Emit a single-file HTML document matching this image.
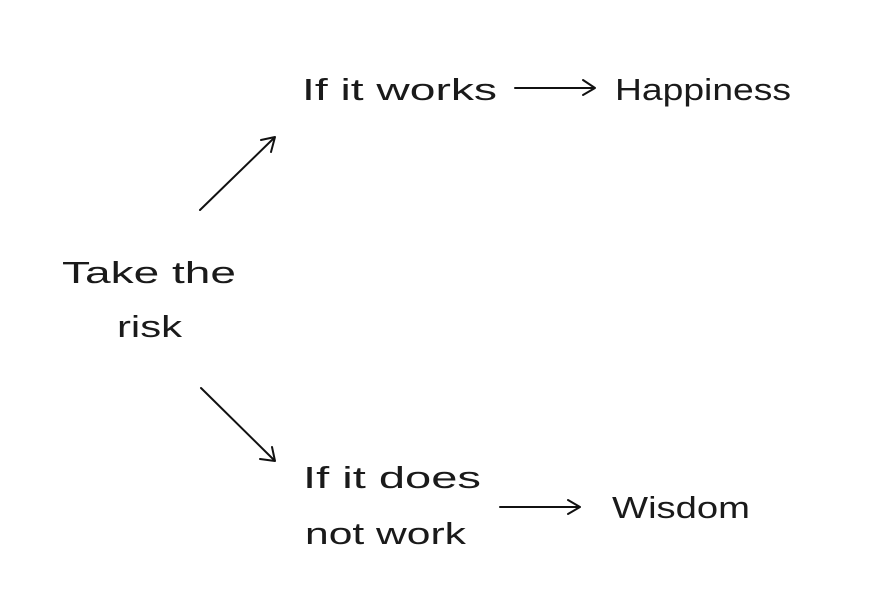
<!DOCTYPE html>
<html><head><style>
html,body{margin:0;padding:0;background:#fff;width:876px;height:601px;overflow:hidden}
svg text{font-family:"Liberation Sans",sans-serif;font-size:31px;fill:#1a1a1a}
</style></head><body>
<svg width="876" height="601" viewBox="0 0 876 601" xmlns="http://www.w3.org/2000/svg">
<g fill="none" stroke="#111" stroke-width="2" stroke-linecap="round" stroke-linejoin="round">
<line x1="515" y1="88" x2="594" y2="88"/><polyline points="583,80 595,88 583,95"/>
<line x1="200" y1="210" x2="274" y2="138"/><polyline points="261,140 275,137 271,152"/>
<line x1="201" y1="388" x2="274" y2="460"/><polyline points="260,459 275,461 272,447"/>
<line x1="500" y1="507" x2="579" y2="507"/><polyline points="568,500 580,507 568,514"/>
</g>
<text x="302" y="100" textLength="195" lengthAdjust="spacingAndGlyphs">If it works</text>
<text x="615" y="100" textLength="176" lengthAdjust="spacingAndGlyphs">Happiness</text>
<text x="62" y="283" textLength="174" lengthAdjust="spacingAndGlyphs">Take the</text>
<text x="117" y="337" textLength="65" lengthAdjust="spacingAndGlyphs">risk</text>
<text x="303" y="488" textLength="178" lengthAdjust="spacingAndGlyphs">If it does</text>
<text x="305" y="544" textLength="161" lengthAdjust="spacingAndGlyphs">not work</text>
<text x="612" y="518" textLength="138" lengthAdjust="spacingAndGlyphs">Wisdom</text>
</svg>
</body></html>
